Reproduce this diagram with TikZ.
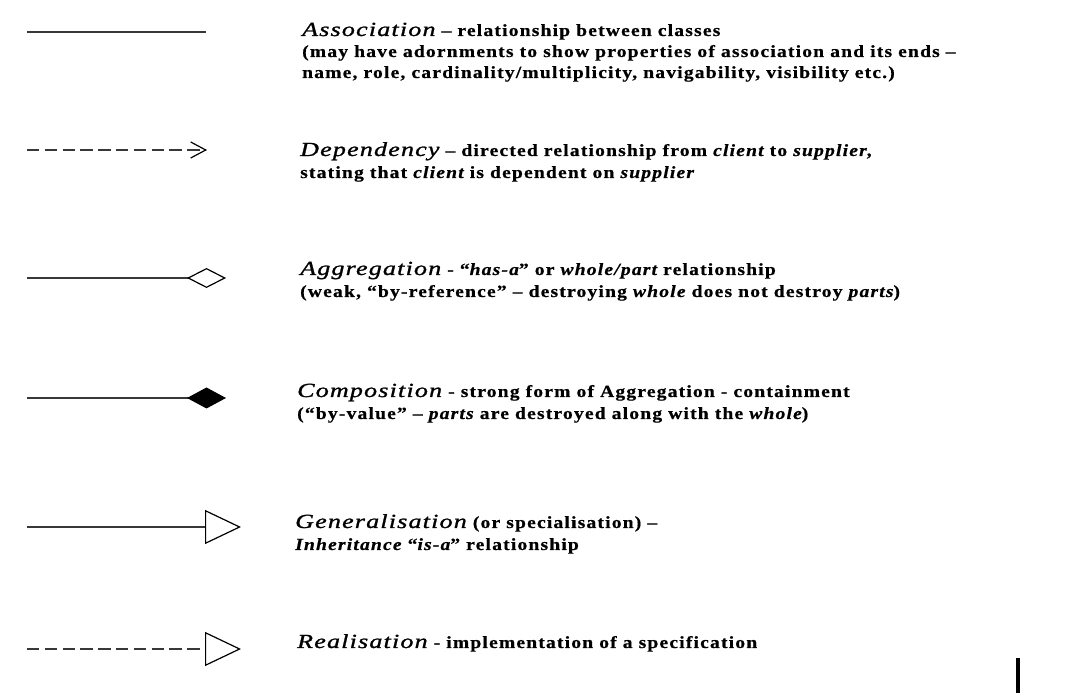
\documentclass[tikz,border=0pt]{standalone}
\usepackage{fontspec}
\usetikzlibrary{arrows.meta}
% Wide, heavy, loosely set serif faces for the legend text
\newfontfamily\headfont[FakeStretch=1.3,LetterSpace=6,FakeBold=1.2]{Liberation Serif}
\newfontfamily\bodyfont[FakeStretch=1.15,LetterSpace=7,FakeBold=0.6]{Liberation Serif}
\newcommand\hd[1]{{\headfont\mdseries\itshape\fontsize{20}{22}\selectfont #1}}
\newcommand\slant[1]{{\itshape #1}}
\begin{document}
\begin{tikzpicture}[x=1pt,y=-1pt,
  shaft/.style={line width=1.5pt, draw=black!78},
  dashshaft/.style={shaft, dash pattern=on 12.3pt off 5.5pt},
  label/.style={anchor=base west, inner sep=0pt,
    font=\bodyfont\bfseries\fontsize{17}{22}\selectfont}
]
\useasboundingbox[fill=white] (0,0) rectangle (1072,700);

% end points of the sample connectors
\coordinate (asA) at (27,32);   \coordinate (asB) at (206,32);
\coordinate (dpA) at (27,150);  \coordinate (dpB) at (207,150);
\coordinate (agA) at (27,278);  \coordinate (agB) at (226,278);
\coordinate (cpA) at (27,398);  \coordinate (cpB) at (226,398);
\coordinate (gnA) at (27,527);  \coordinate (gnB) at (241,527);
\coordinate (rlA) at (27,649);  \coordinate (rlB) at (241,649);

% sample connectors
\draw[shaft] (asA) -- (asB);
\draw[dashshaft, -{Straight Barb[length=15pt,width=16pt,line width=1.2pt,color=black]}] (dpA) -- (dpB);
\draw[shaft, -{Diamond[open,length=39pt,width=20pt,line width=1.2pt,color=black]}] (agA) -- (agB);
\draw[shaft, -{Diamond[length=39pt,width=21pt,color=black,fill=black]}] (cpA) -- (cpB);
\draw[shaft, -{Triangle[open,length=36pt,width=34pt,line width=1.2pt,color=black]}] (gnA) -- (gnB);
\draw[dashshaft, -{Triangle[open,length=36pt,width=34pt,line width=1.2pt,color=black]}] (rlA) -- (rlB);

% descriptions
\node[label] (as1) at (302,36) {\hd{Association} – relationship between classes};
\node[label] (as2) at (302,57) {(may have adornments to show properties of association and its ends –};
\node[label] (as3) at (302,78) {name, role, cardinality/multiplicity, navigability, visibility etc.)};

\node[label] (dp1) at (300,156) {\hd{Dependency} – directed relationship from \slant{client} to \slant{supplier},};
\node[label] (dp2) at (300,178) {stating that \slant{client} is dependent on \slant{supplier}};

\node[label] (ag1) at (300,275) {\hd{Aggregation} - “\slant{has-a}” or \slant{whole/part} relationship};
\node[label] (ag2) at (300,297) {(weak, “by-reference” – destroying \slant{whole} does not destroy \slant{parts})};

\node[label] (cp1) at (297,397) {\hd{Composition} - strong form of Aggregation - containment};
\node[label] (cp2) at (297,419) {(“by-value” – \slant{parts} are destroyed along with the \slant{whole})};

\node[label] (gn1) at (295,528) {\hd{Generalisation} (or specialisation) –};
\node[label] (gn2) at (295,550) {\slant{Inheritance} “\slant{is-a}” relationship};

\node[label] (rl1) at (297,648) {\hd{Realisation} - implementation of a specification};

% text cursor bar
\node[fill=black, inner sep=0pt, minimum width=4pt, minimum height=35pt] (cursor) at (1018,675.5) {};
\end{tikzpicture}
\end{document}
